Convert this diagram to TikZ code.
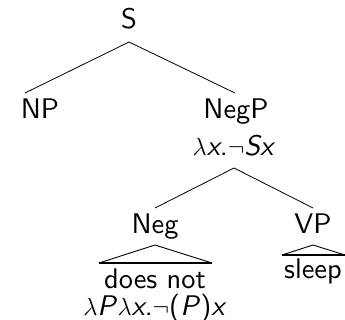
\documentclass[tikz,border=0pt]{standalone}
\usepackage{fontspec}
\setsansfont{lmsans10-regular.otf}[ItalicFont=lmsans10-oblique.otf]
\begin{document}
\begin{tikzpicture}[x=1bp,y=-1bp,
  lbl/.style={anchor=base,inner sep=0pt,font=\sffamily\fontsize{28.5}{32}\selectfont},
  edge/.style={line width=0.8bp},
  tri/.style={line width=0.9bp},
  triBase/.style={line width=2.4bp}]
\useasboundingbox (0,0) rectangle (345,320);
\node[lbl] (S) at (129,28) {S};
\node[lbl] (NP) at (40,118) {NP};
\node[lbl] (NegP) at (236,118) {NegP};
\node[lbl] (lam) at (234,155) {$\lambda$\textit{x}.$\neg$\textit{Sx}};
\node[lbl] (Neg) at (155,233) {Neg};
\node[lbl] (VP) at (313,233) {VP};
\node[lbl] (does) at (155,288) {does not};
\node[lbl] (lam2) at (155,315) {$\lambda$\textit{P}$\lambda$\textit{x}.$\neg$(\textit{P})\textit{x}};
\node[lbl] (sleep) at (313,278) {sleep};
\draw[edge] ([yshift=-14bp]S.base) -- ([xshift=-15bp,yshift=25bp]NP.base);
\draw[edge] ([yshift=-14bp]S.base) -- ([xshift=-1bp,yshift=25bp]NegP.base);
\draw[edge] ([yshift=-13bp]lam.base) -- ([yshift=25bp]Neg.base);
\draw[edge] ([yshift=-13bp]lam.base) -- ([yshift=25bp]VP.base);
\draw[tri] ([xshift=-56bp,yshift=25bp]does.base) -- ([yshift=-12bp]Neg.base) -- ([xshift=57bp,yshift=25bp]does.base);
\draw[triBase] ([xshift=-56bp,yshift=25bp]does.base) -- ([xshift=57bp,yshift=25bp]does.base);
\draw[tri] ([xshift=-31bp,yshift=23bp]sleep.base) -- ([yshift=-12bp]VP.base) -- ([xshift=32bp,yshift=23bp]sleep.base);
\draw[triBase] ([xshift=-31bp,yshift=23bp]sleep.base) -- ([xshift=32bp,yshift=23bp]sleep.base);
\end{tikzpicture}
\end{document}
